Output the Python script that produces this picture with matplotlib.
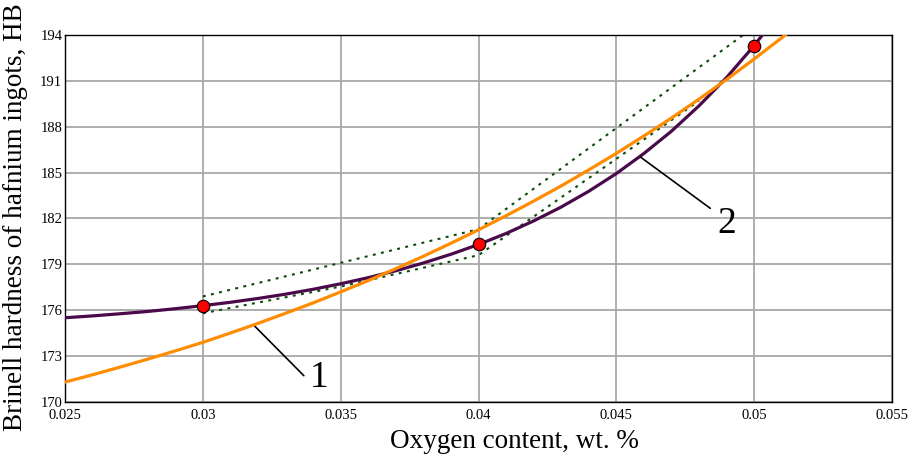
import matplotlib
matplotlib.use("Agg")
import matplotlib.pyplot as plt

# measured hardness points
x_pts = [0.03, 0.04, 0.05]
hb_pts = [176.3, 180.3, 193.3]

# curve 2 (purple), every 0.001
x_c2 = [0.025, 0.026, 0.027, 0.028, 0.029, 0.030, 0.031, 0.032, 0.033, 0.034,
        0.035, 0.036, 0.037, 0.038, 0.039, 0.040, 0.041, 0.042, 0.043, 0.044,
        0.045, 0.046, 0.047, 0.048, 0.049, 0.050, 0.0503]
hb_c2 = [175.51, 175.63, 175.77, 175.92, 176.10, 176.30, 176.52, 176.77, 177.05, 177.37,
         177.73, 178.13, 178.58, 179.09, 179.66, 180.30, 181.02, 181.84, 182.75, 183.78,
         184.94, 186.25, 187.71, 189.37, 191.22, 193.31, 194.0]

# curve 1 (orange)
x_c1 = [0.025, 0.026, 0.027, 0.028, 0.029, 0.030, 0.031, 0.032, 0.033, 0.034,
        0.035, 0.036, 0.037, 0.038, 0.039, 0.040, 0.041, 0.042, 0.043, 0.044,
        0.045, 0.046, 0.047, 0.048, 0.049, 0.050, 0.051, 0.0512]
hb_c1 = [171.30, 171.78, 172.28, 172.80, 173.34, 173.90, 174.51, 175.14, 175.80, 176.48,
         177.20, 177.94, 178.72, 179.53, 180.38, 181.26, 182.18, 183.14, 184.13, 185.18,
         186.26, 187.40, 188.57, 189.81, 191.09, 192.43, 193.82, 194.1]

# dotted band
x_up = [0.03, 0.04, 0.0496]
hb_up = [176.9, 181.3, 194.0]
x_lo = [0.03, 0.035, 0.04, 0.045, 0.048]
hb_lo = [175.8, 177.55, 179.6, 185.9, 189.7]

xticks = [0.025, 0.03, 0.035, 0.04, 0.045, 0.05, 0.055]
xtick_labels = ["0.025", "0.03", "0.035", "0.04", "0.045", "0.05", "0.055"]
yticks = [170, 173, 176, 179, 182, 185, 188, 191, 194]

plt.rcParams["font.family"] = ["Liberation Serif", "DejaVu Serif"]

fig = plt.figure(figsize=(9.13, 4.57), dpi=100)
ax = fig.add_axes([0.0712, 0.1204, 0.9058, 0.803])

ax.grid(True, color="#a8a8a8", linewidth=1.3)
ax.set_axisbelow(True)

ax.plot(x_up, hb_up, color="#0b4a0b", linewidth=1.5, dashes=(1.4, 2.6), zorder=2)
ax.plot(x_lo, hb_lo, color="#0b4a0b", linewidth=1.5, dashes=(1.4, 2.6), zorder=2)
ax.plot(x_c2, hb_c2, color="#4a0a4a", linewidth=2.3, zorder=3)
ax.plot(x_c1, hb_c1, color="#ff8c00", linewidth=2.3, zorder=4)
ax.plot(x_pts, hb_pts, "o", markersize=9, markerfacecolor="#ff0000",
        markeredgecolor="#000000", markeredgewidth=0.8, zorder=5)

ax.set_xlim(0.025, 0.055)
ax.set_ylim(170, 194)
ax.set_xticks(xticks)
ax.set_xticklabels(xtick_labels)
ax.set_yticks(yticks)
ax.tick_params(length=0, labelsize=10.5, pad=2)
ax.tick_params(axis="x", pad=5)

for s in ax.spines.values():
    s.set_color("#000000")
    s.set_linewidth(1.0)

ax.set_xlabel("Oxygen content, wt. %", fontsize=19.5)
ax.xaxis.set_label_coords(0.543, -0.073)
ax.set_ylabel("Brinell hardness of hafnium ingots, HB", fontsize=19.5)
ax.yaxis.set_label_coords(-0.0447, 0.505)

# curve labels with leader lines
ax.annotate("1", xy=(0.03186, 175.0), xytext=(0.03421, 171.57), fontsize=27,
            ha="center", va="center",
            arrowprops=dict(arrowstyle="-", color="black", linewidth=1.2,
                            relpos=(0.0, 0.4), shrinkA=3, shrinkB=0))
ax.annotate("2", xy=(0.04589, 186.0), xytext=(0.04901, 181.64), fontsize=27,
            ha="center", va="center",
            arrowprops=dict(arrowstyle="-", color="black", linewidth=1.2,
                            relpos=(0.0, 0.8), shrinkA=4, shrinkB=0))

fig.savefig("out.png", dpi=100)
